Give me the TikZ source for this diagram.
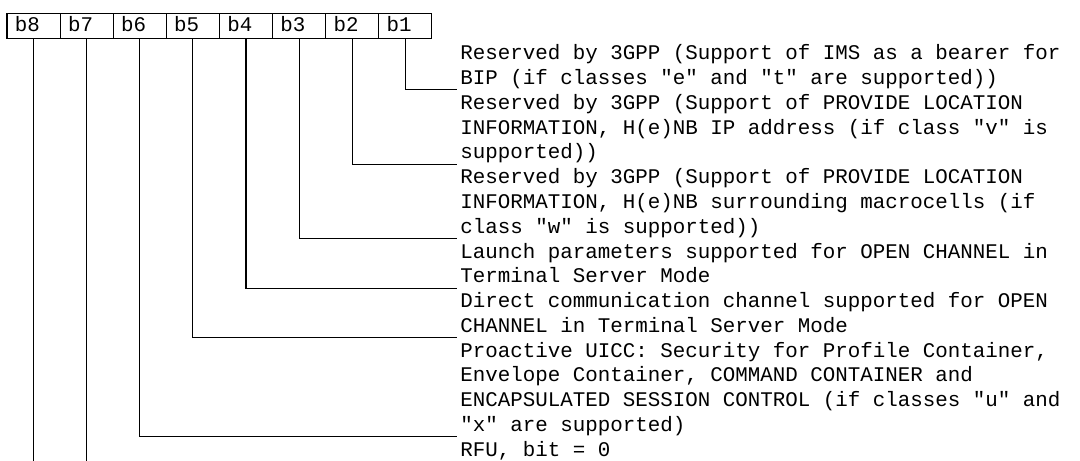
\documentclass[tikz,border=0pt]{standalone}
\usepackage{fontspec}
\newfontfamily\bitfont{Liberation Mono}
\tikzset{
  bitbox/.style={draw, line width=0.55pt, outer sep=0pt,
                 inner xsep=3.8pt, inner ysep=0pt, text width=17.9pt,
                 align=left, text height=8.8pt, text depth=3.4pt},
  bitdesc/.style={anchor=north west, inner sep=0pt, outer sep=0pt, align=left},
  bitline/.style={line width=0.55pt}
}

\begin{document}
\begin{tikzpicture}[font=\bitfont\fontsize{10}{11.9}\selectfont]
  \useasboundingbox (0,0) rectangle (18.22,-7.777);
  \coordinate (bottom) at (0,-7.777);
  % Top row: the eight bits
  \node[bitbox] (b8) at (0.566,-0.439) {b8};
  \node[bitbox] (b7) at (1.462,-0.439) {b7};
  \node[bitbox] (b6) at (2.358,-0.439) {b6};
  \node[bitbox] (b5) at (3.254,-0.439) {b5};
  \node[bitbox] (b4) at (4.150,-0.439) {b4};
  \node[bitbox] (b3) at (5.046,-0.439) {b3};
  \node[bitbox] (b2) at (5.942,-0.439) {b2};
  \node[bitbox] (b1) at (6.838,-0.439) {b1};
  % Right column: meaning of each bit
  \node[bitdesc] (t1) at (7.765,-0.714)
    {\strut Reserved by 3GPP (Support of IMS as a bearer for\\
     BIP (if classes "e" and "t" are supported))\strut};
  \node[bitdesc] (t2) at (t1.south west)
    {\strut Reserved by 3GPP (Support of PROVIDE LOCATION\\
     INFORMATION, H(e)NB IP address (if class "v" is\\
     supported))\strut};
  \node[bitdesc] (t3) at (t2.south west)
    {\strut Reserved by 3GPP (Support of PROVIDE LOCATION\\
     INFORMATION, H(e)NB surrounding macrocells (if\\
     class "w" is supported))\strut};
  \node[bitdesc] (t4) at (t3.south west)
    {\strut Launch parameters supported for OPEN CHANNEL in\\
     Terminal Server Mode\strut};
  \node[bitdesc] (t5) at (t4.south west)
    {\strut Direct communication channel supported for OPEN\\
     CHANNEL in Terminal Server Mode\strut};
  \node[bitdesc] (t6) at (t5.south west)
    {\strut Proactive UICC: Security for Profile Container,\\
     Envelope Container, COMMAND CONTAINER and\\
     ENCAPSULATED SESSION CONTROL (if classes "u" and\\
     "x" are supported)\strut};
  \node[bitdesc] (t7) at (t6.south west)
    {\strut RFU, bit = 0\strut};
  % Leader lines
  \draw[bitline] (b1.south) |- ([xshift=-1.6pt,yshift=1pt]t1.south west);
  \draw[bitline] (b2.south) |- ([xshift=-1.6pt,yshift=1pt]t2.south west);
  \draw[bitline] (b3.south) |- ([xshift=-1.6pt,yshift=1pt]t3.south west);
  \draw[bitline] (b4.south) |- ([xshift=-1.6pt,yshift=1pt]t4.south west);
  \draw[bitline] (b5.south) |- ([xshift=-1.6pt,yshift=1pt]t5.south west);
  \draw[bitline] (b6.south) |- ([xshift=-1.6pt,yshift=1pt]t6.south west);
  \draw[bitline] (b7.south) -- (b7.south |- bottom);
  \draw[bitline] (b8.south) -- (b8.south |- bottom);
\end{tikzpicture}
\end{document}
